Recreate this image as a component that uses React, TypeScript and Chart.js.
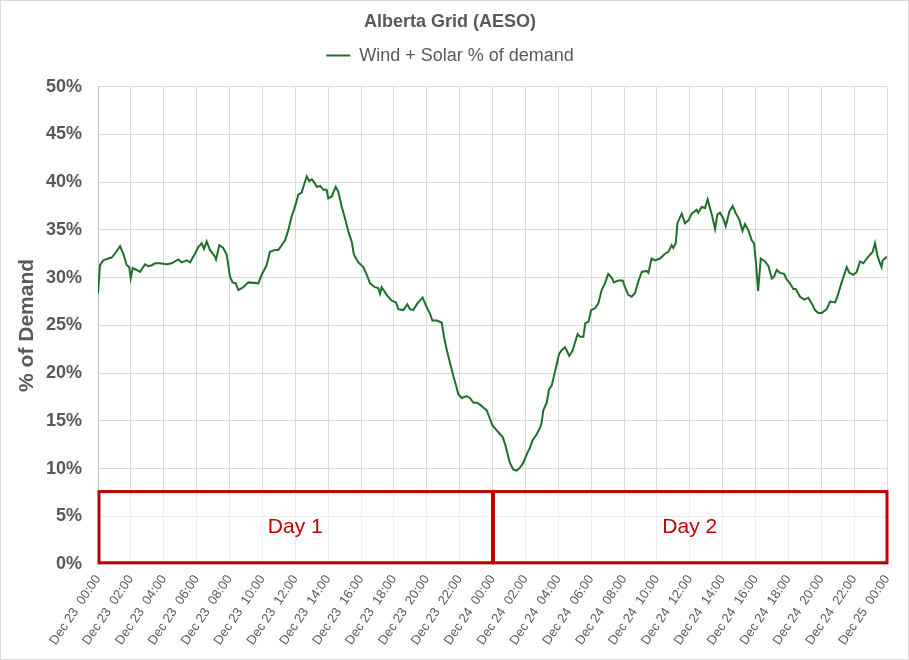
import React, { useEffect, useRef } from "react";
import { Chart, registerables } from "chart.js";

Chart.register(...registerables);

const TITLE = "Alberta Grid (AESO)";
const SERIES_LABEL = "Wind + Solar % of demand";
const Y_TITLE = "% of Demand";
const DAY_LABELS = ["Day 1", "Day 2"];
const DAY_STARTS = [0, 24];
const DAY_LENGTH = 24;
const DAY_BOX_TOP = 7.6;
const DAY_BOX_BOTTOM = 0.15;

// hours since Dec 23 00:00
const hours = [
  0.0, 0.12, 0.32, 0.63, 0.83, 1.03, 1.34, 1.54, 1.75, 1.9, 1.99, 2.11, 2.35, 2.56, 2.86, 3.06, 3.27, 3.47, 3.77,
  4.18, 4.48, 4.89, 5.09, 5.4, 5.6, 5.9, 6.1, 6.31, 6.45, 6.61, 6.81, 7.12, 7.18, 7.38, 7.62, 7.83, 8.03, 8.19,
  8.38, 8.54, 8.84, 9.14, 9.75, 9.96, 10.26, 10.46, 10.77, 10.97, 11.18, 11.38, 11.58, 11.78, 11.98, 12.19, 12.39,
  12.53, 12.7, 12.85, 13.0, 13.1, 13.31, 13.51, 13.71, 13.91, 14.01, 14.22, 14.46, 14.62, 14.83, 15.03, 15.23,
  15.43, 15.57, 15.84, 16.14, 16.35, 16.55, 16.85, 17.05, 17.16, 17.26, 17.56, 17.87, 18.13, 18.27, 18.57, 18.82,
  18.98, 19.18, 19.43, 19.75, 20.0, 20.2, 20.34, 20.61, 20.91, 21.05, 21.21, 21.41, 21.62, 21.8, 21.92, 22.13,
  22.41, 22.63, 22.84, 23.04, 23.24, 23.44, 23.65, 23.85, 24.01, 24.26, 24.46, 24.62, 24.76, 24.92, 25.06, 25.27,
  25.47, 25.67, 25.87, 26.08, 26.28, 26.45, 26.69, 26.89, 26.99, 27.09, 27.3, 27.44, 27.6, 27.7, 27.86, 28.05,
  28.21, 28.41, 28.51, 28.67, 28.88, 29.02, 29.18, 29.32, 29.53, 29.64, 29.84, 30.0, 30.24, 30.44, 30.64, 30.84,
  31.04, 31.25, 31.39, 31.65, 31.92, 32.06, 32.26, 32.47, 32.67, 32.87, 33.08, 33.38, 33.48, 33.68, 33.88, 34.19,
  34.49, 34.7, 34.9, 35.0, 35.15, 35.25, 35.51, 35.71, 35.92, 36.12, 36.42, 36.52, 36.73, 36.93, 37.09, 37.23,
  37.37, 37.54, 37.68, 37.84, 38.04, 38.19, 38.41, 38.61, 38.81, 39.01, 39.21, 39.36, 39.56, 39.77, 39.91, 40.03,
  40.16, 40.32, 40.58, 40.79, 40.99, 41.13, 41.29, 41.49, 41.74, 41.9, 42.1, 42.3, 42.45, 42.71, 42.96, 43.21,
  43.42, 43.62, 43.82, 44.03, 44.33, 44.53, 44.84, 44.98, 45.24, 45.55, 45.71, 45.95, 46.16, 46.36, 46.56, 46.77,
  46.97, 47.13, 47.27, 47.41, 47.53, 47.67, 47.73, 47.94, 48.0,
];

const windSolarPct = [
  28.3, 31.3, 31.8, 32.0, 32.1, 32.5, 33.3, 32.5, 31.3, 31.1, 29.9, 31.0, 30.8, 30.6, 31.4, 31.2, 31.3, 31.5, 31.5,
  31.4, 31.5, 31.9, 31.6, 31.8, 31.6, 32.5, 33.2, 33.6, 33.0, 33.8, 32.9, 32.2, 31.9, 33.4, 33.1, 32.4, 30.1, 29.5,
  29.4, 28.7, 29.0, 29.5, 29.4, 30.3, 31.3, 32.7, 32.9, 32.9, 33.4, 33.9, 35.0, 36.4, 37.4, 38.7, 38.9,
  39.7, 40.6, 40.1, 40.3, 40.1, 39.5, 39.6, 39.2, 39.2, 38.3, 38.5, 39.5, 39.0, 37.4, 36.2, 34.8,
  33.8, 32.4, 31.6, 31.1, 30.3, 29.4, 29.0, 28.9, 28.3, 29.0, 28.2, 27.6, 27.4, 26.7, 26.6, 27.2,
  26.7, 26.6, 27.3, 27.9, 26.9, 26.2, 25.5, 25.5, 25.3, 23.8, 22.5, 21.1, 19.7, 18.6, 17.8, 17.4,
  17.6, 17.4, 16.9, 16.9, 16.7, 16.4, 16.1, 15.2, 14.5, 14.0, 13.6, 13.3, 12.6, 11.5, 10.6, 9.9,
  9.8, 10.1, 10.6, 11.5, 12.2, 13.0, 13.6, 14.3, 14.8, 16.1, 16.9, 18.3, 18.7, 19.4, 20.6, 22.0,
  22.4, 22.7, 22.4, 21.8, 22.4, 23.2, 24.1, 23.8, 23.8, 25.2, 25.4, 26.6, 26.8, 27.3, 28.7, 29.4,
  30.4, 30.0, 29.5, 29.7, 29.7, 29.0, 28.2, 28.0, 28.4, 29.6, 30.6, 30.7, 30.5, 32.0, 31.8, 32.0,
  32.5, 32.7, 33.4, 33.1, 33.6, 35.7, 36.7, 35.7, 36.0, 36.7, 37.1, 36.8, 37.4, 37.3, 38.2, 37.3,
  36.4, 35.1, 36.6, 36.8, 36.2, 35.4, 36.9, 37.5, 36.7, 36.1, 34.9, 35.6, 35.0, 33.9, 33.6, 31.5,
  28.6, 32.0, 31.7, 31.2, 29.9, 30.1, 30.8, 30.5, 30.4, 29.8, 29.4, 28.8, 28.8, 28.0, 27.7, 27.9,
  27.3, 26.6, 26.3, 26.3, 26.7, 27.5, 27.4, 28.0, 29.5, 31.1, 30.5, 30.3, 30.6, 31.7, 31.5, 32.0,
  32.4, 32.7, 33.6, 32.4, 31.7, 31.1, 31.8, 32.1, 32.2,
];

const Y_MIN = 0;
const Y_MAX = 50;
const Y_STEP = 5;
const X_MIN = 0;
const X_MAX = 48;
const X_STEP = 2;
const START_DAY = 23;
const MONTH = "Dec";

const FONT = "'Liberation Sans', Arial, sans-serif";
const GRAY = "#595959";
const GREEN = "#1f6f2c";
const RED = "#c00000";

function tickLabel(h: number): string {
  const day = START_DAY + Math.floor(h / 24);
  const hh = h % 24;
  return `${MONTH} ${day}  ${String(hh).padStart(2, "0")}:00`;
}

const dayBoxes = {
  id: "dayBoxes",
  afterDatasetsDraw(chart: any) {
    const { ctx, scales } = chart;
    const xs = scales.x;
    const ys = scales.y;
    ctx.save();
    DAY_STARTS.forEach((start, i) => {
      const x0 = xs.getPixelForValue(start);
      const x1 = xs.getPixelForValue(start + DAY_LENGTH);
      const y0 = ys.getPixelForValue(DAY_BOX_TOP);
      const y1 = ys.getPixelForValue(DAY_BOX_BOTTOM);
      ctx.fillStyle = "rgba(255,255,255,0.55)";
      ctx.fillRect(x0, y0, x1 - x0, y1 - y0);
      ctx.lineWidth = 3;
      ctx.strokeStyle = RED;
      ctx.strokeRect(x0 + 1, y0, x1 - x0 - 1, y1 - y0);
      ctx.fillStyle = RED;
      ctx.font = `21px ${FONT}`;
      ctx.textAlign = "center";
      ctx.textBaseline = "middle";
      ctx.fillText(DAY_LABELS[i], (x0 + x1) / 2, (y0 + y1) / 2);
    });
    ctx.restore();
  },
};

const legendMargin = {
  id: "legendMargin",
  beforeInit(chart: any) {
    const origFit = chart.legend.fit;
    chart.legend.fit = function () {
      origFit.bind(chart.legend)();
      this.height += 12;
    };
  },
};

export default function App() {
  const ref = useRef<HTMLCanvasElement | null>(null);
  useEffect(() => {
    if (!ref.current) return;
    Chart.defaults.font.family = FONT;
    const chart = new Chart(ref.current, {
      type: "line",
      data: {
        datasets: [
          {
            label: SERIES_LABEL,
            data: hours.map((h, i) => ({ x: h, y: windSolarPct[i] })),
            borderColor: GREEN,
            backgroundColor: GREEN,
            borderWidth: 2,
            pointRadius: 0,
            tension: 0,
          },
        ],
      },
      options: {
        animation: false,
        responsive: false,
        layout: { padding: { left: 12, right: 21, top: 0, bottom: 3 } },
        plugins: {
          title: {
            display: true,
            text: TITLE,
            color: GRAY,
            font: { size: 18, weight: "bold" },
            padding: { top: 10, bottom: 9 },
          },
          legend: {
            display: true,
            labels: {
              color: GRAY,
              font: { size: 18 },
              boxWidth: 24,
              boxHeight: 0,
              padding: 5,
            },
          },
          tooltip: { enabled: false },
        },
        scales: {
          x: {
            type: "linear",
            min: X_MIN,
            max: X_MAX,
            grid: { color: "#d9d9d9", drawTicks: false },
            border: { color: "#d9d9d9" },
            afterFit: (scale: any) => {
              scale.paddingLeft = 0;
              scale.paddingRight = 0;
            },
            ticks: {
              stepSize: X_STEP,
              autoSkip: false,
              minRotation: 56,
              maxRotation: 56,
              color: GRAY,
              font: { size: 13 },
              padding: 8,
              callback: (v: any) => tickLabel(Number(v)),
            },
          },
          y: {
            min: Y_MIN,
            max: Y_MAX,
            grid: { color: "#d9d9d9", drawTicks: false },
            border: { color: "#bfbfbf" },
            afterFit: (scale: any) => {
              scale.width = 85;
            },
            ticks: {
              stepSize: Y_STEP,
              color: GRAY,
              font: { size: 18, weight: "bold" },
              padding: 16,
              callback: (v: any) => `${v}%`,
            },
            title: {
              display: true,
              text: Y_TITLE,
              color: GRAY,
              font: { size: 21, weight: "bold" },
              padding: { top: 2, bottom: 6 },
            },
          },
        },
      },
      plugins: [dayBoxes, legendMargin],
    });
    return () => chart.destroy();
  }, []);
  return (
    <div
      style={{
        position: "absolute",
        left: 0,
        top: 0,
        width: 909,
        height: 660,
        boxSizing: "border-box",
        border: "1px solid #d9d9d9",
        background: "#fff",
        overflow: "hidden",
      }}
    >
      <canvas ref={ref} width={907} height={658} style={{ display: "block" }} />
    </div>
  );
}
